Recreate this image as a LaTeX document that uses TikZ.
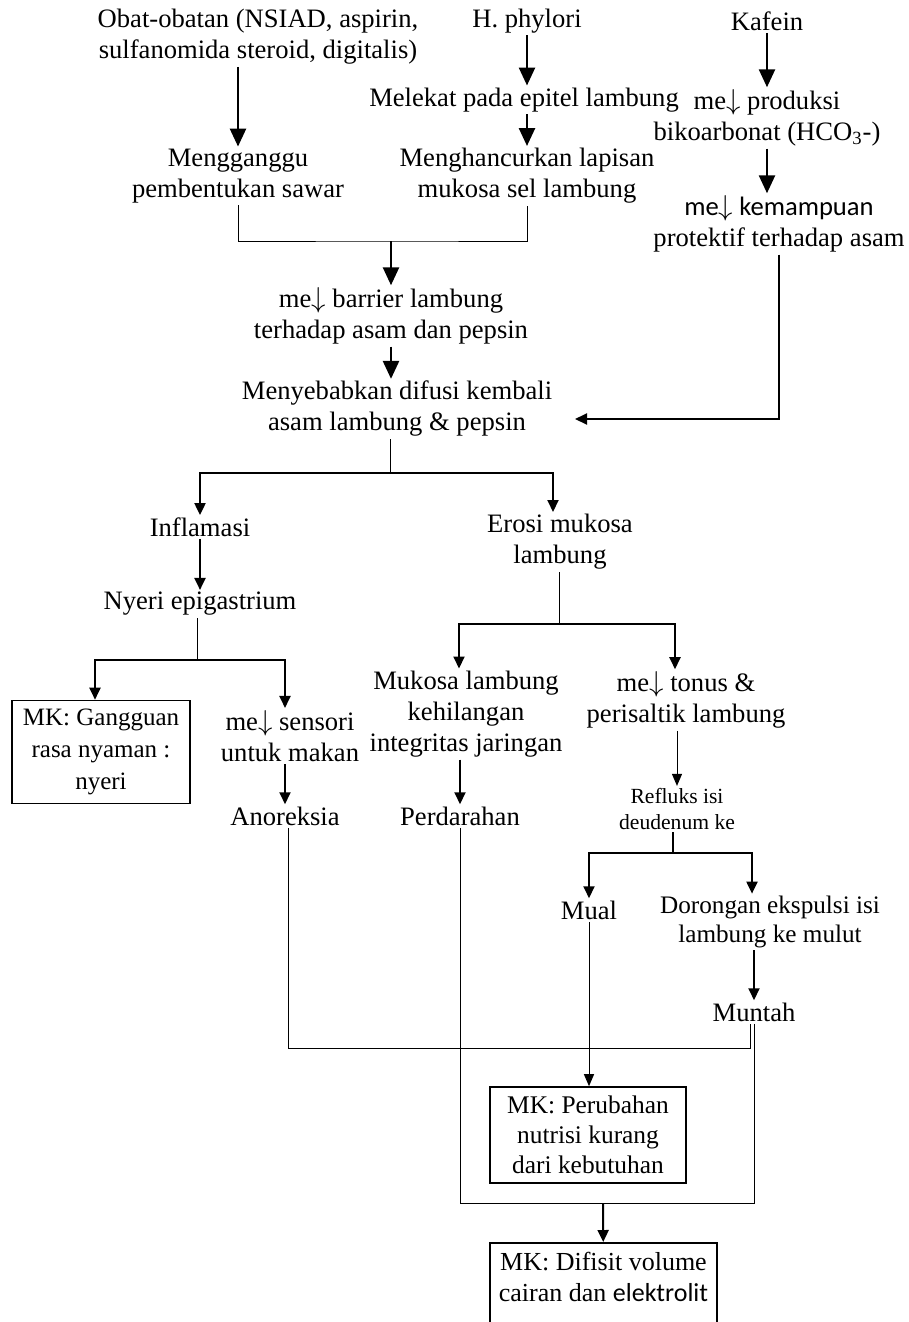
\documentclass[tikz,border=0pt]{standalone}
\usepackage{fontspec}
\setmainfont{Liberation Serif}
\newfontfamily\calibri{Carlito}
\usetikzlibrary{arrows.meta,positioning}
\newcommand{\turun}{$\downarrow$}

\begin{document}
\begin{tikzpicture}[x=0.5pt,y=-0.5pt,
    txt/.style={align=center,inner sep=1pt,font=\fontsize{13.3}{15.5}\selectfont},
    kecil/.style={align=center,inner sep=1pt,font=\fontsize{12.6}{14.5}\selectfont},
    kotak/.style={draw,line width=0.8pt,align=center,inner sep=2pt},
    panahbesar/.style={line width=1.3pt,-{Triangle[length=9pt,width=8pt]}},
    panah/.style={line width=1pt,-{Triangle[length=6pt,width=5.5pt]}},
    panahtipis/.style={line width=0.5pt,-{Triangle[length=6pt,width=5pt]}},
    tebal/.style={line width=1pt},
    garis/.style={line width=0.5pt}]
\useasboundingbox (0,0) rectangle (909,1322);

\node[txt] (obat) at (258,37) {Obat-obatan (NSIAD, aspirin,\\sulfanomida steroid, digitalis)};
\node[txt] (hpy) at (527,21) {H. phylori};
\node[txt] (kafein) at (767,21) {Kafein};
\node[txt] (melekat) at (524,100) {Melekat pada epitel lambung};
\node[txt] (produksi) at (767,118) {me\turun{} produksi\\bikoarbonat (HCO\textsubscript{3}-)};
\node[txt] (ganggu) at (238,176) {Mengganggu\\pembentukan sawar};
\node[txt] (hancur) at (527,176) {Menghancurkan lapisan\\mukosa sel lambung};
\node[txt] (mampu) at (779,224) {{\calibri me\turun{} kemampuan}\\protektif terhadap asam};
\node[txt] (barrier) at (391,316) {me\turun{} barrier lambung\\terhadap asam dan pepsin};
\node[txt] (difusi) at (397,409) {Menyebabkan difusi kembali\\asam lambung \& pepsin};
\node[txt] (inflamasi) at (200,527) {Inflamasi};
\node[txt] (erosi) at (560,542) {Erosi mukosa\\lambung};
\node[txt] (nyeri) at (200,604) {Nyeri epigastrium};
\node[kotak,font=\fontsize{12.5}{16}\selectfont,minimum width=89pt,minimum height=51.5pt] (mk1) at (101,752) {MK: Gangguan\\rasa nyaman :\\nyeri};
\node[txt] (sensori) at (290,736) {me\turun{} sensori\\untuk makan};
\node[txt] (anoreksia) at (285,816) {Anoreksia};
\node[txt] (mukosa) at (466,714) {Mukosa lambung\\kehilangan\\integritas jaringan};
\node[txt] (tonus) at (686,700) {me\turun{} tonus \&\\perisaltik lambung};
\node[txt] (perdarahan) at (460,816) {Perdarahan};
\node[txt,font=\fontsize{10.8}{13}\selectfont] (refluks) at (677,809) {Refluks isi\\deudenum ke};
\node[txt] (mual) at (589,910) {Mual};
\node[kecil] (dorong) at (770,922) {Dorongan ekspulsi isi\\lambung ke mulut};
\node[txt] (muntah) at (754,1012) {Muntah};
\node[kotak,font=\fontsize{12.7}{15}\selectfont,minimum width=98pt,minimum height=48pt] (mk2) at (588,1135) {MK: Perubahan\\nutrisi kurang\\dari kebutuhan};
\node[kotak,font=\fontsize{13}{15.5}\selectfont,minimum width=113.5pt,inner ysep=4.5pt,anchor=north] (mk3) at (603.5,1242) {MK: Difisit volume\\cairan dan {\calibri elektrolit}\\ \mbox{}};

\coordinate (j1) at (391,241);
\coordinate (kin) at (575,419);
\coordinate (j2) at (390,473);
\coordinate (j3) at (197,660);
\coordinate (j4) at (559,624);
\coordinate (j5) at (673,853);
\coordinate (m1) at (750,1048);
\coordinate (j6) at (603,1203);

\draw[panahbesar] (obat.south -| ganggu) -- (ganggu);
\draw[panahbesar] (hpy) -- (hpy |- melekat.north);
\draw[panahbesar] (melekat.south -| hancur) -- (hancur);
\draw[panahbesar] (kafein) -- (produksi);
\draw[panahbesar] (produksi) -- (produksi |- mampu.north);
\draw[garis] (ganggu.south) |- (j1) -| (hancur.south);
\draw[panahbesar] (j1) -- (barrier);
\draw[panahbesar] (barrier) -- (barrier |- difusi.north);
\draw[panah] (mampu.south) |- (kin);
\draw[garis] (difusi.south -| j2) -- (j2);
\draw[panah] (j2) -| (inflamasi.north);
\draw[panah] (j2) -| ([xshift=-3.5pt]erosi.north);
\draw[panah] (inflamasi) -- (nyeri);
\draw[garis] (nyeri.south -| j3) -- (j3);
\draw[panah] (j3) -| ([xshift=-3pt]mk1.north);
\draw[panah] (j3) -| ([xshift=-2.5pt]sensori.north);
\draw[panah] (sensori.south -| anoreksia) -- (anoreksia);
\draw[garis] (erosi.south -| j4) -- (j4);
\draw[panah] (j4) -| ([xshift=-3.5pt]mukosa.north);
\draw[panah] (j4) -| ([xshift=-5.5pt]tonus.north);
\draw[panah] (mukosa.south -| perdarahan) -- (perdarahan);
\draw[panahtipis] (tonus.south -| refluks) -- (refluks);
\draw[tebal] (refluks.south -| j5) -- (j5);
\draw[panah] (j5) -| (mual.north);
\draw[panah] (j5) -| ([xshift=-9pt]dorong.north);
\draw[panah] (dorong.south -| muntah) -- (muntah);
\draw[garis] ([xshift=1.5pt]anoreksia.south) |- (m1) -- (m1 |- muntah.south);
\draw[garis] (perdarahan.south) |- (j6);
\draw[garis] (muntah.south) |- (j6);
\draw[panah] (j6) -- (mk3);
\draw[panahtipis] (mual) -- (mual |- mk2.north);
\end{tikzpicture}
\end{document}
